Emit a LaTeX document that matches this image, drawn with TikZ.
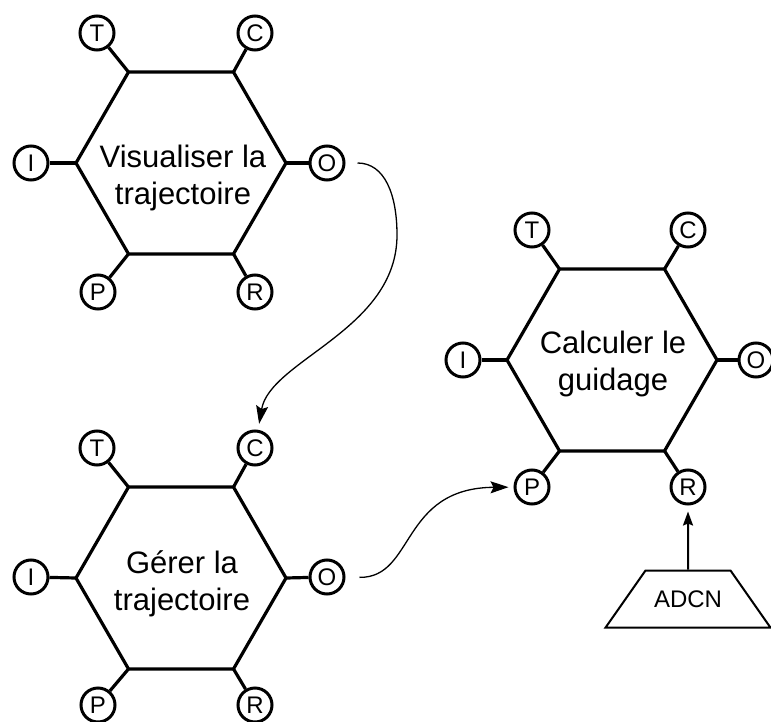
\documentclass[tikz,border=0pt]{standalone}
\usepackage{fontspec}
\setmainfont{Liberation Sans}
\usetikzlibrary{arrows.meta,shapes.geometric}

\begin{document}
\begin{tikzpicture}[x=0.5pt,y=-0.5pt,
	fonction/.style={draw,regular polygon,regular polygon sides=6,
		minimum size=105pt,inner sep=0pt,outer sep=0pt,line width=1.6pt},
	libelle/.style={align=center,font=\fontsize{15.5}{18.5}\selectfont},
	aspect/.style={draw,circle,minimum size=17pt,inner sep=0.5pt,
		line width=1.5pt,font=\fontsize{12}{14}\selectfont},
	tige/.style={line width=1.6pt},
	lien/.style={-{Stealth[length=9pt,width=6pt,inset=1.5pt]},line width=0.65pt},
	fleche/.style={-{Stealth[length=7pt,width=5pt,inset=1pt]},line width=1pt},
	ressource/.style={draw,trapezium,trapezium left angle=55,trapezium right angle=55,
		line width=1pt,inner xsep=4.25pt,inner ysep=10pt,font=\fontsize{12}{14}\selectfont}]
	\path[use as bounding box,fill=white](0,0) rectangle (771,722);
	% Visualiser la trajectoire
	\node[fonction] (F1) at (181,163){};
	\node[libelle] (L1) at (183,178){Visualiser la\\trajectoire};
	\node[aspect] (T1) at (97,33){T};
	\node[aspect] (C1) at (255,33){C};
	\node[aspect] (I1) at (31,163){I};
	\node[aspect] (O1) at (327,163){O};
	\node[aspect] (P1) at (98,292){P};
	\node[aspect] (R1) at (255,292){R};
	\draw[tige](T1)--(F1.120);
	\draw[tige](C1)--(F1.60);
	\draw[tige](I1)--(F1.180);
	\draw[tige](O1)--(F1.0);
	\draw[tige](P1)--(F1.240);
	\draw[tige](R1)--(F1.300);
	% Gerer la trajectoire
	\node[fonction] (F2) at (181,578){};
	\node[libelle] (L2) at (182,584){Gérer la\\trajectoire};
	\node[aspect] (T2) at (97,448){T};
	\node[aspect] (C2) at (255,448){C};
	\node[aspect] (I2) at (31,577){I};
	\node[aspect] (O2) at (327,577){O};
	\node[aspect] (P2) at (98,705){P};
	\node[aspect] (R2) at (255,705){R};
	\draw[tige](T2)--(F2.120);
	\draw[tige](C2)--(F2.60);
	\draw[tige](I2)--(F2.180);
	\draw[tige](O2)--(F2.0);
	\draw[tige](P2)--(F2.240);
	\draw[tige](R2)--(F2.300);
	% Calculer le guidage
	\node[fonction] (F3) at (612,360){};
	\node[libelle] (L3) at (613,364){Calculer le\\guidage};
	\node[aspect] (T3) at (532,230){T};
	\node[aspect] (C3) at (688,230){C};
	\node[aspect] (I3) at (463,360){I};
	\node[aspect] (O3) at (756,360){O};
	\node[aspect] (P3) at (532,487){P};
	\node[aspect] (R3) at (688,487){R};
	\draw[tige](T3)--(F3.120);
	\draw[tige](C3)--(F3.60);
	\draw[tige](I3)--(F3.180);
	\draw[tige](O3)--(F3.0);
	\draw[tige](P3)--(F3.240);
	\draw[tige](R3)--(F3.300);
	% ressource
	\node[ressource] (ADCN) at (688,599){ADCN};
	\draw[fleche,shorten >=3pt](ADCN)--(R3);
	% couplages
	\draw[lien,shorten <=6pt,shorten >=3pt](O1) .. controls (385,163) and (397,195) .. (397,235)
		.. controls (397,330) and (270,360) .. (C2);
	\draw[lien,shorten <=7pt,shorten >=2.5pt](O2) .. controls (415,578) and (400,488) .. (P3);
\end{tikzpicture}
\end{document}
